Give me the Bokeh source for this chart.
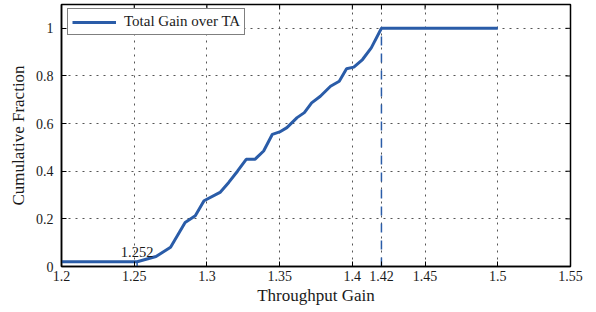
import math
from bokeh.plotting import figure
from bokeh.models import FixedTicker, Range1d, ColumnDataSource, Legend, LegendItem
from bokeh.core.properties import value
from bokeh.embed import file_html
from bokeh.resources import INLINE

# ---- data ----
gain_x = [1.2, 1.252, 1.265, 1.275, 1.285, 1.292, 1.298, 1.309, 1.315, 1.321, 1.327,
          1.333, 1.339, 1.345, 1.350, 1.355, 1.362, 1.367, 1.372, 1.378, 1.385, 1.391,
          1.396, 1.401, 1.407, 1.413, 1.42, 1.5]
cdf_y = [0.02, 0.02, 0.042, 0.081, 0.185, 0.213, 0.276, 0.311, 0.353, 0.40, 0.45,
         0.45, 0.485, 0.555, 0.565, 0.583, 0.625, 0.646, 0.687, 0.715, 0.757, 0.778,
         0.83, 0.837, 0.869, 0.918, 1.0, 1.0]
series_name = "Total Gain over TA"
marker_x = [1.252, 1.42]
marker_y = [0.02, 1.0]
annot_text = ["1.252"]
x_ticks = [1.2, 1.25, 1.3, 1.35, 1.4, 1.42, 1.45, 1.5, 1.55]
x_tick_labels = ["1.2", "1.25", "1.3", "1.35", "1.4", "1.42", "1.45", "1.5", "1.55"]
y_ticks = [0, 0.2, 0.4, 0.6, 0.8, 1.0]
y_tick_labels = ["0", "0.2", "0.4", "0.6", "0.8", "1"]

FONT = "Liberation Serif"
BLUE = "#2a5ca8"
X0, X1, Y0, Y1 = 1.2, 1.55, 0.0, 1.1

p = figure(width=596, height=312,
           output_backend="svg", toolbar_location=None,
           x_range=Range1d(X0, X1), y_range=Range1d(Y0, Y1),
           min_border_left=61, min_border_right=26, min_border_top=4, min_border_bottom=46)
p.background_fill_color = "white"
p.border_fill_color = "white"
p.outline_line_color = "black"
p.outline_line_width = 1.5

xt = FixedTicker(ticks=x_ticks)
yt = FixedTicker(ticks=y_ticks)

for ax, tk, labels in ((p.xaxis[0], xt, x_tick_labels), (p.yaxis[0], yt, y_tick_labels)):
    ax.ticker = tk
    ax.major_label_overrides = {t: s for t, s in zip(tk.ticks, labels)}
    ax.major_tick_in = 5
    ax.major_tick_out = 0
    ax.minor_tick_in = 0
    ax.minor_tick_out = 0
    ax.major_tick_line_color = "black"
    ax.axis_line_color = "black"
    ax.axis_line_width = 1.5
    ax.major_label_text_font = FONT
    ax.major_label_text_font_size = "14px"
    ax.major_label_text_color = "#1a1a1a"
    ax.axis_label_text_font = FONT
    ax.axis_label_text_font_size = "17px"
    ax.axis_label_text_font_style = "normal"
    ax.axis_label_text_color = "#1a1a1a"

p.xaxis[0].axis_label = "Throughput Gain"
p.xaxis[0].major_label_standoff = 4
p.xaxis[0].axis_label_standoff = 2
p.yaxis[0].axis_label = "Cumulative Fraction"
p.yaxis[0].major_label_standoff = 8
p.yaxis[0].axis_label_standoff = 5

# inward ticks on the top and right edges of the frame
p.ray(x=x_ticks, y=[Y1] * len(x_ticks), length=5, length_units="screen",
      angle=-math.pi / 2, line_color="black", line_width=1)
p.ray(x=[X1] * len(y_ticks), y=y_ticks, length=5, length_units="screen",
      angle=math.pi, line_color="black", line_width=1)

p.xgrid.ticker = xt
p.ygrid.ticker = yt
for g in (p.xgrid[0], p.ygrid[0]):
    g.grid_line_color = "#555555"
    g.grid_line_dash = "2 5"
    g.grid_line_width = 1

src = ColumnDataSource(dict(x=gain_x, y=cdf_y))
r = p.line("x", "y", source=src, line_color=BLUE, line_width=3)

msrc = ColumnDataSource(dict(x=marker_x, y=marker_y, y0=[0] * len(marker_x)))
p.segment(x0="x", y0="y0", x1="x", y1="y", source=msrc, line_color=BLUE,
          line_width=1.5, line_dash="9 8")

p.text(x=marker_x[:1], y=marker_y[:1], text=annot_text, text_font=value(FONT),
       text_font_size="14.5px", text_align="center", text_baseline="alphabetic",
       y_offset=-10, text_color="#1a1a1a")

legend = Legend(items=[LegendItem(label=series_name, renderers=[r])],
                location=(6, 231), padding=4, margin=0, glyph_width=44, glyph_height=14,
                label_standoff=8, label_text_font=FONT, label_text_font_size="15px",
                label_text_color="#1a1a1a", label_height=15,
                border_line_color="black", border_line_width=1.5,
                background_fill_color="white", background_fill_alpha=1)
p.add_layout(legend)

open("out.html", "w").write(file_html(p, INLINE))
